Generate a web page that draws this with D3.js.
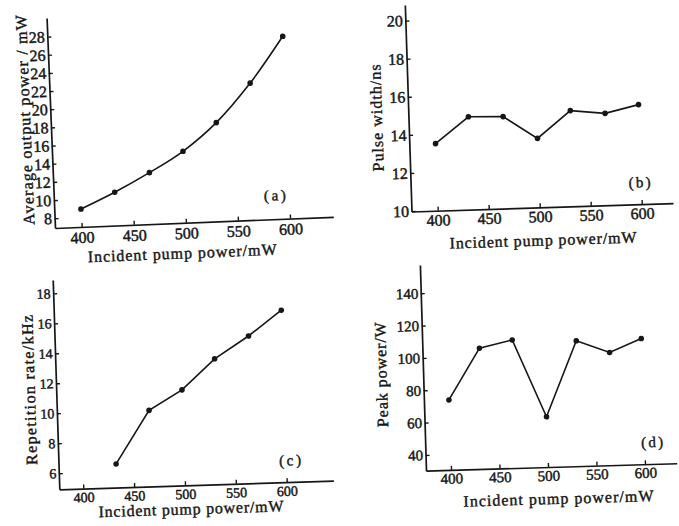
<!DOCTYPE html>
<html>
<head>
<meta charset="utf-8">
<script src="https://cdn.jsdelivr.net/npm/d3@7"></script>
<style>
  body { margin: 0; background: #fff; }
  svg text { font-family: "Liberation Serif", "Times New Roman", serif; fill: #161616; }
</style>
</head>
<body>
<svg id="chart" width="679" height="526"></svg>
<script>
// pump powers (mW) where the measurements were taken
var pumpPower = [400, 433, 467, 500, 533, 567, 600];
var pumpPowerRep = [433, 467, 500, 533, 567, 600];

// (a) average output power, mW
var avgPower = [8.9, 10.6, 12.6, 14.8, 17.8, 22.0, 27.0];
// (b) pulse width, ns
var pulseWidth = [13.5, 14.85, 14.8, 13.6, 15.0, 14.8, 15.2];
// (c) repetition rate, kHz
var repRate = [6.5, 10.0, 11.3, 13.3, 14.75, 16.4];
// (d) peak power, W
var peakPower = [73.6, 105, 109.5, 61.4, 107.8, 100, 108];

var xTicks = [400, 450, 500, 550, 600];
var avgTicks = [8, 10, 12, 14, 16, 18, 20, 22, 24, 26, 28];
var pulseTicks = [10, 12, 14, 16, 18, 20];
var repTicks = [6, 8, 10, 12, 14, 16, 18];
var peakTicks = [40, 60, 80, 100, 120, 140];

var xTitle = 'Incident pump power/mW';

// layout of the four panels (the scan is a little rotated, so each panel is too)
var panels = [
    {tag: '(a)', xs: pumpPower, ys: avgPower, yTicks: avgTicks, yTitle: 'Average output power / mW',
     ox: 55, oy: 228, rot: -2.3, w: 278.5, h: 210.2, xDom: [374.4, 641.5], yDom: [6.93, 30.06],
     fs: 16, xLab: 10.4, xt: [126, 30, 189], yt: [-26, -109, 210], tg: [221, -24], smooth: true},
    {tag: '(b)', xs: pumpPower, ys: pulseWidth, yTicks: pulseTicks, yTitle: 'Pulse width/ns',
     ox: 411.5, oy: 211.5, rot: -1.85, w: 261.7, h: 206.6, xDom: [374.3, 630.7], yDom: [9.98, 20.82],
     fs: 16, xLab: 9.3, xt: [130.5, 32.7, 187], yt: [-32, -94.6, 107], tg: [229, -22]},
    {tag: '(c)', xs: pumpPowerRep, ys: repRate, yTicks: repTicks, yTitle: 'Repetition rate/kHz',
     ox: 59.3, oy: 489.3, rot: -1.8, w: 274.2, h: 209.4, xDom: [376.4, 645.9], yDom: [4.93, 18.89],
     fs: 14, xLab: 8.8, xt: [131, 23.5, 185], yt: [-27, -100.2, 150], tg: [231.5, -22]},
    {tag: '(d)', xs: pumpPower, ys: peakPower, yTicks: peakTicks, yTitle: 'Peak power/W',
     ox: 426, oy: 470.7, rot: -1.7, w: 250.8, h: 205.8, xDom: [374.2, 632.7], yDom: [30.3, 157.5],
     fs: 15, xLab: 8.5, xt: [131.5, 31.5, 190], yt: [-42, -97.3, 105], tg: [226.8, -22]}
];

var svg = d3.select('#chart');
svg.append('rect').attr('width', 679).attr('height', 526).attr('fill', '#fff');

panels.forEach(function (p) {
    var g = svg.append('g')
        .attr('transform', 'translate(' + p.ox + ',' + p.oy + ') rotate(' + p.rot + ')');

    var x = d3.scaleLinear().domain(p.xDom).range([0, p.w]),
        y = d3.scaleLinear().domain(p.yDom).range([0, -p.h]);

    var xAxis = g.append('g')
        .call(d3.axisBottom(x).tickValues(xTicks).tickSizeInner(-4).tickSizeOuter(0)
            .tickPadding(p.xLab - 0.36 * p.fs));
    var yAxis = g.append('g')
        .call(d3.axisLeft(y).tickValues(p.yTicks).tickSizeInner(-4).tickSizeOuter(0).tickPadding(2.5));

    [xAxis, yAxis].forEach(function (a) {
        a.attr('font-family', null).attr('font-size', null);
        a.select('.domain').attr('stroke', '#161616').attr('stroke-width', 1.7);
        a.selectAll('.tick line').attr('stroke', '#161616').attr('stroke-width', 1.4);
        a.selectAll('.tick text').style('font-size', p.fs + 'px')
            .attr('stroke', '#161616').attr('stroke-width', 0.45);
    });

    var pts = p.xs.map(function (d, i) { return [d, p.ys[i]]; });
    var line = d3.line()
        .x(function (d) { return x(d[0]); })
        .y(function (d) { return y(d[1]); })
        .curve(p.smooth ? d3.curveCatmullRom.alpha(0.5) : d3.curveLinear);

    g.append('path').datum(pts)
        .attr('d', line)
        .attr('fill', 'none')
        .attr('stroke', '#161616')
        .attr('stroke-width', 1.6);

    g.selectAll('circle.pt').data(pts).enter().append('circle')
        .attr('class', 'pt')
        .attr('cx', function (d) { return x(d[0]); })
        .attr('cy', function (d) { return y(d[1]); })
        .attr('r', 2.8)
        .attr('fill', '#161616');

    // axis titles
    g.append('text')
        .attr('x', p.xt[0]).attr('y', p.xt[1])
        .attr('text-anchor', 'middle').attr('dy', '0.35em')
        .attr('textLength', p.xt[2]).attr('lengthAdjust', 'spacing')
        .style('font-size', '16px')
        .attr('stroke', '#161616').attr('stroke-width', 0.4)
        .text(xTitle);

    g.append('text')
        .attr('transform', 'translate(' + p.yt[0] + ',' + p.yt[1] + ') rotate(-90)')
        .attr('text-anchor', 'middle').attr('dy', '0.35em')
        .attr('textLength', p.yt[2]).attr('lengthAdjust', 'spacing')
        .style('font-size', '16px')
        .attr('stroke', '#161616').attr('stroke-width', 0.4)
        .text(p.yTitle);

    g.append('text')
        .attr('x', p.tg[0]).attr('y', p.tg[1])
        .attr('text-anchor', 'middle').attr('dy', '0.35em')
        .attr('textLength', 22).attr('lengthAdjust', 'spacing')
        .style('font-size', '15px')
        .attr('stroke', '#161616').attr('stroke-width', 0.4)
        .text(p.tag);
});
</script>
</body>
</html>
